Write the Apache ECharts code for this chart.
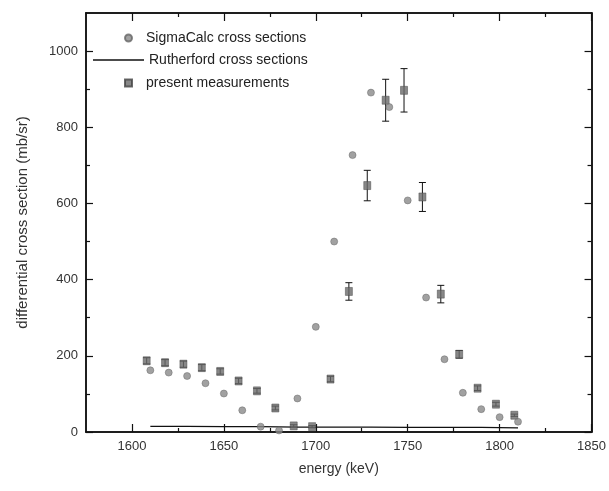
<!DOCTYPE html>
<html>
<head>
<meta charset="utf-8">
<script src="https://cdn.jsdelivr.net/npm/echarts@6/dist/echarts.min.js"></script>
<style>html,body{margin:0;padding:0;background:#fff}#c{width:609px;height:491px}</style>
</head>
<body>
<div id="c"></div>
<script>
var sigmaE = [1610,1620,1630,1640,1650,1660,1670,1680,1690,1700,1710,1720,1730,1740,1750,1760,1770,1780,1790,1800,1810];
var sigmaV = [162,156,147,128,101,57,14,4,88,276,500,727,891,853,608,353,191,103,60,39,27];
var ruthE = [1610,1630,1650,1670,1690,1710,1730,1750,1770,1790,1810];
var ruthV = [15,15,14,14,13,13,13,12,12,12,11];
var measE = [1608,1618,1628,1638,1648,1658,1668,1678,1688,1698,1708,1718,1728,1738,1748,1758,1768,1778,1788,1798,1808];
var measV = [187,182,178,169,159,134,108,63,16,14,139,369,647,871,897,617,362,204,115,73,44];
var measErr = [8,8,8,8,7,7,6,5,3,3,7,23,40,55,57,38,23,10,6,5,3];
var xMajor = [1600,1650,1700,1750,1800,1850];
var xMinor = [1625,1675,1725,1775,1825];
var yMajor = [0,200,400,600,800,1000];
var yMinor = [100,300,500,700,900];

var font = 'Liberation Sans, Arial, sans-serif';
function plain(v) { return String(v); }
function xa(pos, ticks, len, labels, extra) {
  var o = {
    type: 'value', position: pos, min: 1575, max: 1850,
    axisLine: {show: true, onZero: false, lineStyle: {color: '#111', width: 1.5}},
    axisTick: {show: true, inside: true, length: len, customValues: ticks, lineStyle: {color: '#111', width: 1.2}},
    axisLabel: {show: labels, customValues: ticks, formatter: plain, color: '#333', fontSize: 13, fontFamily: font, margin: 8},
    splitLine: {show: false}
  };
  for (var k in extra) o[k] = extra[k];
  return o;
}
function ya(pos, ticks, len, labels, extra) {
  var o = {
    type: 'value', position: pos, min: 0, max: 1100,
    axisLine: {show: true, onZero: false, lineStyle: {color: '#111', width: 1.5}},
    axisTick: {show: true, inside: true, length: len, customValues: ticks, lineStyle: {color: '#111', width: 1.2}},
    axisLabel: {show: labels, customValues: ticks, formatter: plain, color: '#333', fontSize: 13, fontFamily: font, margin: 8},
    splitLine: {show: false}
  };
  for (var k in extra) o[k] = extra[k];
  return o;
}
var legText = {fontFamily: font, fontSize: 14, color: '#222', lineHeight: 16};
var legTextPad = {fontFamily: font, fontSize: 14, color: '#222', lineHeight: 16, padding: [0, 0, 0, 9]};

var chart = echarts.init(document.getElementById('c'), null, {renderer: 'canvas'});
chart.setOption({
  animation: false,
  backgroundColor: '#fff',
  grid: {left: 86, right: 17, top: 13, bottom: 59},
  legend: [
    {orient: 'vertical', left: 119, top: 25, itemWidth: 7, itemHeight: 7, textStyle: legTextPad,
     data: [{name: 'SigmaCalc cross sections', icon: 'circle'}]},
    {orient: 'vertical', left: 88, top: 47, itemWidth: 51, itemHeight: 1.5, textStyle: legText,
     data: [{name: 'Rutherford cross sections', icon: 'rect'}]},
    {orient: 'vertical', left: 119, top: 70, itemWidth: 7, itemHeight: 7, textStyle: legTextPad,
     data: [{name: 'present measurements', icon: 'rect'}]}
  ],
  xAxis: [
    xa('bottom', xMajor, 8, true, {name: 'energy (keV)', nameLocation: 'middle', nameGap: 30,
      nameTextStyle: {fontFamily: font, fontSize: 14, color: '#333'}}),
    xa('bottom', xMinor, 4, false, {}),
    xa('top', xMajor, 8, false, {}),
    xa('top', xMinor, 4, false, {})
  ],
  yAxis: [
    ya('left', yMajor, 7, true, {name: 'differential cross section (mb/sr)', nameLocation: 'middle', nameGap: 56,
      nameTextStyle: {fontFamily: font, fontSize: 15, color: '#333'}}),
    ya('left', yMinor, 4, false, {}),
    ya('right', yMajor, 7, false, {}),
    ya('right', yMinor, 4, false, {})
  ],
  series: [
    {
      name: 'Rutherford cross sections', type: 'line', symbol: 'none',
      data: ruthE.map(function (e, i) { return [e, ruthV[i]]; }),
      lineStyle: {color: '#111', width: 1.3}, itemStyle: {color: '#111'}, z: 2
    },
    {
      name: 'present measurements err', type: 'custom',
      data: measE.map(function (e, i) { return [e, measV[i] - measErr[i], measV[i] + measErr[i]]; }),
      renderItem: function (params, api) {
        var lo = api.coord([api.value(0), api.value(1)]);
        var hi = api.coord([api.value(0), api.value(2)]);
        var w = 3.5;
        var st = {stroke: '#111', lineWidth: 1};
        return {type: 'group', children: [
          {type: 'line', shape: {x1: lo[0], y1: lo[1], x2: hi[0], y2: hi[1]}, style: st},
          {type: 'line', shape: {x1: lo[0] - w, y1: lo[1], x2: lo[0] + w, y2: lo[1]}, style: st},
          {type: 'line', shape: {x1: hi[0] - w, y1: hi[1], x2: hi[0] + w, y2: hi[1]}, style: st}
        ]};
      },
      z: 3
    },
    {
      name: 'present measurements', type: 'scatter', symbol: 'rect', symbolSize: [7, 8],
      data: measE.map(function (e, i) { return [e, measV[i]]; }),
      itemStyle: {color: '#6a6a6a', borderColor: '#444', borderWidth: 0.6}, z: 4
    },
    {
      name: 'SigmaCalc cross sections', type: 'scatter', symbol: 'circle', symbolSize: 7,
      data: sigmaE.map(function (e, i) { return [e, sigmaV[i]]; }),
      itemStyle: {color: '#8a8a8a', borderColor: '#666', borderWidth: 0.6}, z: 5
    }
  ]
});
</script>
</body>
</html>
